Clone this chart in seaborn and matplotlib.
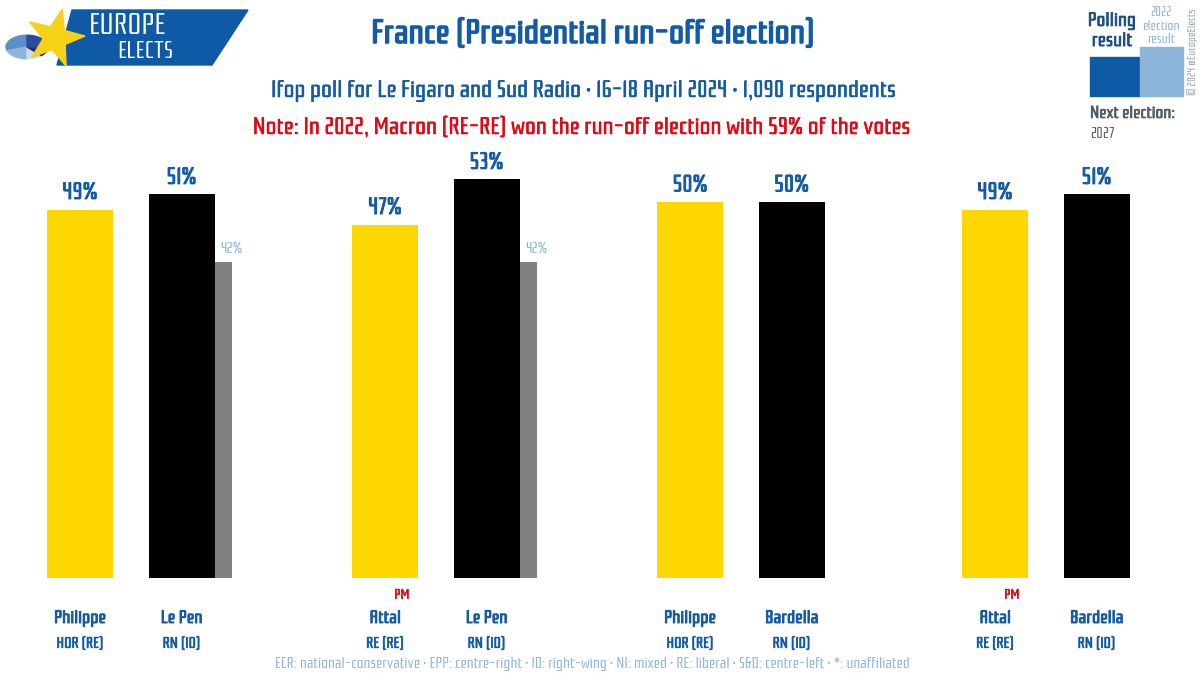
import matplotlib
matplotlib.use("Agg")
import matplotlib.pyplot as plt
import matplotlib.patches as mpatches
import matplotlib.patheffects as pe
import numpy as np
import pandas as pd
import seaborn as sns

# poll data
groups = [0, 0, 1, 1, 2, 2, 3, 3]
slots = [0, 1, 0, 1, 0, 1, 0, 1]
candidates = ["Philippe", "Le Pen", "Attal", "Le Pen", "Philippe", "Bardella", "Attal", "Bardella"]
parties = ["HOR (RE)", "RN (ID)", "RE (RE)", "RN (ID)", "HOR (RE)", "RN (ID)", "RE (RE)", "RN (ID)"]
values = [49, 51, 47, 53, 50, 50, 49, 51]
colours = ["yellow", "black", "yellow", "black", "yellow", "black", "yellow", "black"]
pm_flag = [False, False, True, False, False, False, True, False]

# 2022 run-off result shown next to Le Pen
prev_groups = [0, 1]
prev_values = [42, 42]

palette = {"yellow": "#FFD700", "black": "#000000"}
BLUE = "#135ba6"
LIGHT = "#8db4da"
RED = "#e30613"

sns.set_theme(style="white")
plt.rcParams["font.family"] = ["Rationale", "DejaVu Sans"]


def bold(col, w=0.9):
    return [pe.withStroke(linewidth=w, foreground=col)]


fig = plt.figure(figsize=(12, 6.73), dpi=100)
ax = fig.add_axes([0, 0, 1, 1])

offset = 0.1664
bar_w = 0.2164
df = pd.DataFrame({
    "x": [g + (s - 0.5) * 2 * offset for g, s in zip(groups, slots)],
    "value": values,
    "colour": colours,
})
sns.barplot(data=df, x="x", y="value", hue="colour", palette=palette,
            native_scale=True, dodge=False, width=bar_w / (2 * offset),
            legend=False, ax=ax, saturation=1, edgecolor="none")

prev_x = [g + 0.3041 for g in prev_groups]
ax.bar(prev_x, prev_values, width=0.0557, color="#808080", edgecolor="none")

ax.set_xlim(-0.4287, 3.5057)
ax.set_ylim(-12.63, 76.86)
ax.axis("off")

for x, v in zip(df["x"], values):
    ax.text(x, v + 2.2, f"{v}%", ha="center", va="center", color=BLUE,
            fontsize=17, path_effects=bold(BLUE, 0.7))
for x, v in zip(prev_x, prev_values):
    ax.text(x + 0.025, v + 1.8, f"{v}%", ha="center", va="center", color=LIGHT,
            fontsize=11)
for x, c, p, pm in zip(df["x"], candidates, parties, pm_flag):
    ax.text(x, -5.45, c, ha="center", va="center", color=BLUE, fontsize=13,
            path_effects=bold(BLUE, 0.7))
    ax.text(x, -8.75, p, ha="center", va="center", color=BLUE, fontsize=11,
            path_effects=bold(BLUE, 0.5))
    if pm:
        ax.text(x + 0.055, -2.3, "PM", ha="center", va="center", color=RED,
                fontsize=10, path_effects=bold(RED, 0.4))

# header texts
fig.text(0.494, 1 - 35 / 673, "France (Presidential run-off election)", ha="center", va="center",
         color=BLUE, fontsize=24, path_effects=bold(BLUE, 1.2))
fig.text(0.4855, 1 - 91 / 673,
         "Ifop poll for Le Figaro and Sud Radio · 16-18 April 2024 · 1,090 respondents",
         ha="center", va="center", color=BLUE, fontsize=17.2, path_effects=bold(BLUE, 0.4))
fig.text(0.4845, 1 - 128 / 673,
         "Note: In 2022, Macron (RE-RE) won the run-off election with 59% of the votes",
         ha="center", va="center", color=RED, fontsize=17.2, path_effects=bold(RED, 0.4))
fig.text(0.494, 1 - 664 / 673,
         "ECR: national-conservative · EPP: centre-right · ID: right-wing · NI: mixed · "
         "RE: liberal · S&D: centre-left · *: unaffiliated",
         ha="center", va="center", color=LIGHT, fontsize=10.8)

# logo
H = 673.0
def fx(px):
    return px / 1200.0
def fy(py):
    return 1 - py / H

logo = mpatches.Polygon([(fx(57), fy(65)), (fx(72), fy(10)), (fx(248), fy(10)), (fx(212), fy(65))],
                        closed=True, transform=fig.transFigure, color="#0f5aa7")
fig.patches.append(logo)
pie_cols = ["#5b8fc7", "#8fb4dc", "#c9dcef", "#1b2f6e", "#2a4c9a"]
start = 90
for frac, col in zip([0.3, 0.2, 0.12, 0.13, 0.25], pie_cols):
    w = mpatches.Wedge((fx(27), fy(47)), fx(21), start, start + frac * 360,
                       transform=fig.transFigure, color=col)
    fig.patches.append(w)
    start += frac * 360
ang = np.linspace(np.pi / 2, np.pi / 2 + 2 * np.pi, 11)[:-1]
rad = np.where(np.arange(10) % 2 == 0, 30, 12)
star = mpatches.Polygon(np.c_[fx(55 + rad * np.cos(ang - 0.25)), fy(38 - rad * np.sin(ang - 0.25))],
                        closed=True, transform=fig.transFigure, color="#f7d117")
fig.patches.append(star)
fig.text(fx(128), fy(26), "EUROPE", ha="center", va="center", color="white", fontsize=21)
fig.text(fx(145), fy(52), "ELECTS", ha="center", va="center", color="white", fontsize=17)

# legend box top right
fig.patches.append(mpatches.Rectangle((fx(1090), fy(96)), fx(50), 39 / H,
                                      transform=fig.transFigure, color="#0f5aa7"))
fig.patches.append(mpatches.Rectangle((fx(1140), fy(96)), fx(43), 49 / H,
                                      transform=fig.transFigure, color="#8db4da"))
fig.text(fx(1112), fy(31), "Polling\nresult", ha="center", va="center", color="#1d4f86",
         fontsize=14, linespacing=1.15, path_effects=bold("#1d4f86", 0.6))
fig.text(fx(1161), fy(26), "2022\nelection\nresult", ha="center", va="center", color=LIGHT,
         fontsize=9.5, linespacing=1.05)
fig.text(fx(1090), fy(114), "Next election:", ha="left", va="center", color="#505a66",
         fontsize=12.5, path_effects=bold("#505a66", 0.5))
fig.text(fx(1090), fy(134), "2027", ha="left", va="center", color="#505a66", fontsize=11)
fig.text(fx(1193), fy(52), "© 2024 @EuropeElects", ha="center", va="center", color="#9aa3ad",
         fontsize=8, rotation=90)

fig.savefig("out.png", dpi=100, facecolor="white")
